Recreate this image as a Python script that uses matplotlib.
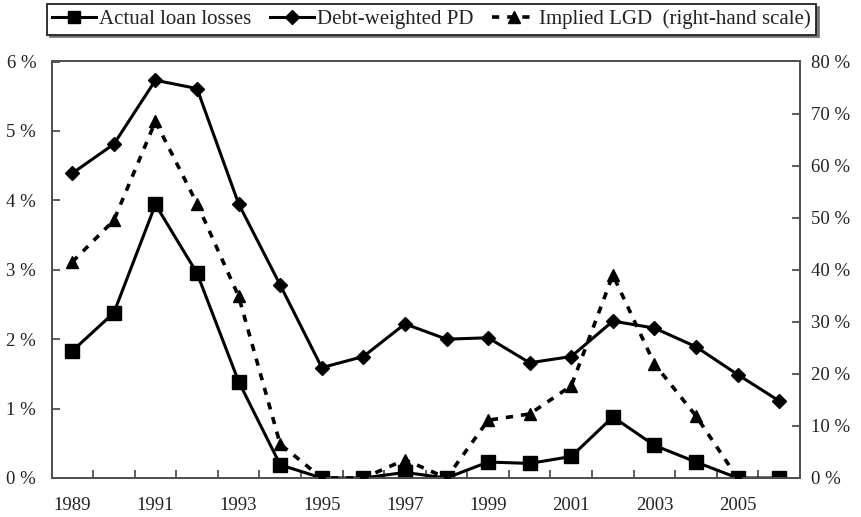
import numpy as np
import matplotlib
matplotlib.use("Agg")
import matplotlib.pyplot as plt
from matplotlib.lines import Line2D

plt.rcParams['font.family'] = ['Liberation Serif', 'DejaVu Serif']

years = list(range(1989, 2007))
year_labels = [str(y) if (y - 1989) % 2 == 0 else "" for y in years]

loan_losses = [1.83, 2.38, 3.94, 2.95, 1.39, 0.19, 0.0, 0.0, 0.08, 0.0,
               0.23, 0.21, 0.31, 0.88, 0.47, 0.23, 0.0, 0.0]
debt_pd = [4.39, 4.81, 5.73, 5.61, 3.95, 2.78, 1.59, 1.75, 2.22, 2.00,
           2.02, 1.66, 1.75, 2.26, 2.16, 1.89, 1.49, 1.11]
implied_lgd = [41.5, 49.5, 68.5, 52.7, 34.9, 6.5, 0.0, 0.0, 3.5, 0.0,
               11.1, 12.3, 17.7, 39.0, 21.9, 11.9, 0.0, np.nan]

left_ticks = [0, 1, 2, 3, 4, 5, 6]
right_ticks = [0, 10, 20, 30, 40, 50, 60, 70, 80]

fig = plt.figure(figsize=(8.61, 5.17), dpi=100)
ax = fig.add_axes([51.5 / 861, 39 / 517, (800 - 51.5) / 861, (478 - 61.5) / 517])
ax2 = ax.twinx()

x = np.arange(len(years))
axis_col = '#505050'
txt_col = '#222222'

l1, = ax.plot(x, loan_losses, color='black', lw=2.2, marker='s', ms=9.5,
              label='Actual loan losses', zorder=3)
l2, = ax.plot(x, debt_pd, color='black', lw=2.2, marker='D', ms=7,
              label='Debt-weighted PD', zorder=3)
l3, = ax2.plot(x, implied_lgd, color='black', lw=2.6, ls=(0, (2, 2.2)),
               marker='^', ms=9, label='Implied LGD  (right-hand scale)', zorder=3)

ax.set_xlim(-0.5, len(years) - 0.5)
ax.set_ylim(0, 6)
ax2.set_ylim(0, 80)

ax.set_yticks(left_ticks)
ax.set_yticklabels([f"{v} %" for v in left_ticks])
ax2.set_yticks(right_ticks)
ax2.set_yticklabels([f"{v} %" for v in right_ticks])

# category axis: labels at centres, ticks at boundaries
ax.set_xticks(x)
ax.set_xticklabels(year_labels)
ax.set_xticks(np.arange(0.5, len(years) - 0.5, 1.0), minor=True)
ax.tick_params(axis='x', which='major', length=0, pad=14, labelsize=13.5,
               labelcolor=txt_col)
ax.tick_params(axis='x', which='minor', direction='in', length=6, width=1.3,
               color=axis_col)
ax.tick_params(axis='y', direction='in', length=6, width=1.3, color=axis_col,
               pad=11, labelsize=13.5, labelcolor=txt_col)
ax2.tick_params(axis='y', direction='in', length=6, width=1.3, color=axis_col,
                pad=8, labelsize=13.5, labelcolor=txt_col)

for a in (ax, ax2):
    for s in a.spines.values():
        s.set_color(axis_col)
        s.set_linewidth(1.3)

# legend handles
h1 = Line2D([], [], color='black', lw=2.2, marker='s', ms=9)
h2 = Line2D([], [], color='black', lw=2.2, marker='D', ms=7)
h3 = Line2D([], [], color='black', lw=2.6, ls=(0, (2, 2.2)), marker='^', ms=9)
leg = fig.legend([h1, h2, h3],
                 ['Actual loan losses', 'Debt-weighted PD', 'Implied LGD  (right-hand scale)'],
                 loc='center', bbox_to_anchor=(431.5 / 861, 1 - 19.5 / 517),
                 ncol=3, fontsize=15, frameon=True, fancybox=False,
                 shadow={'ox': 2, 'oy': -2, 'color': '#777777', 'alpha': 1.0},
                 handlelength=2.1, handletextpad=0.15, columnspacing=0.9,
                 borderpad=0.25, borderaxespad=0, markerscale=1.0)
leg.get_frame().set_edgecolor('#222222')
leg.get_frame().set_linewidth(1.3)
leg.get_frame().set_facecolor('white')
for t in leg.get_texts():
    t.set_color(txt_col)

fig.savefig('out.png', dpi=100)
